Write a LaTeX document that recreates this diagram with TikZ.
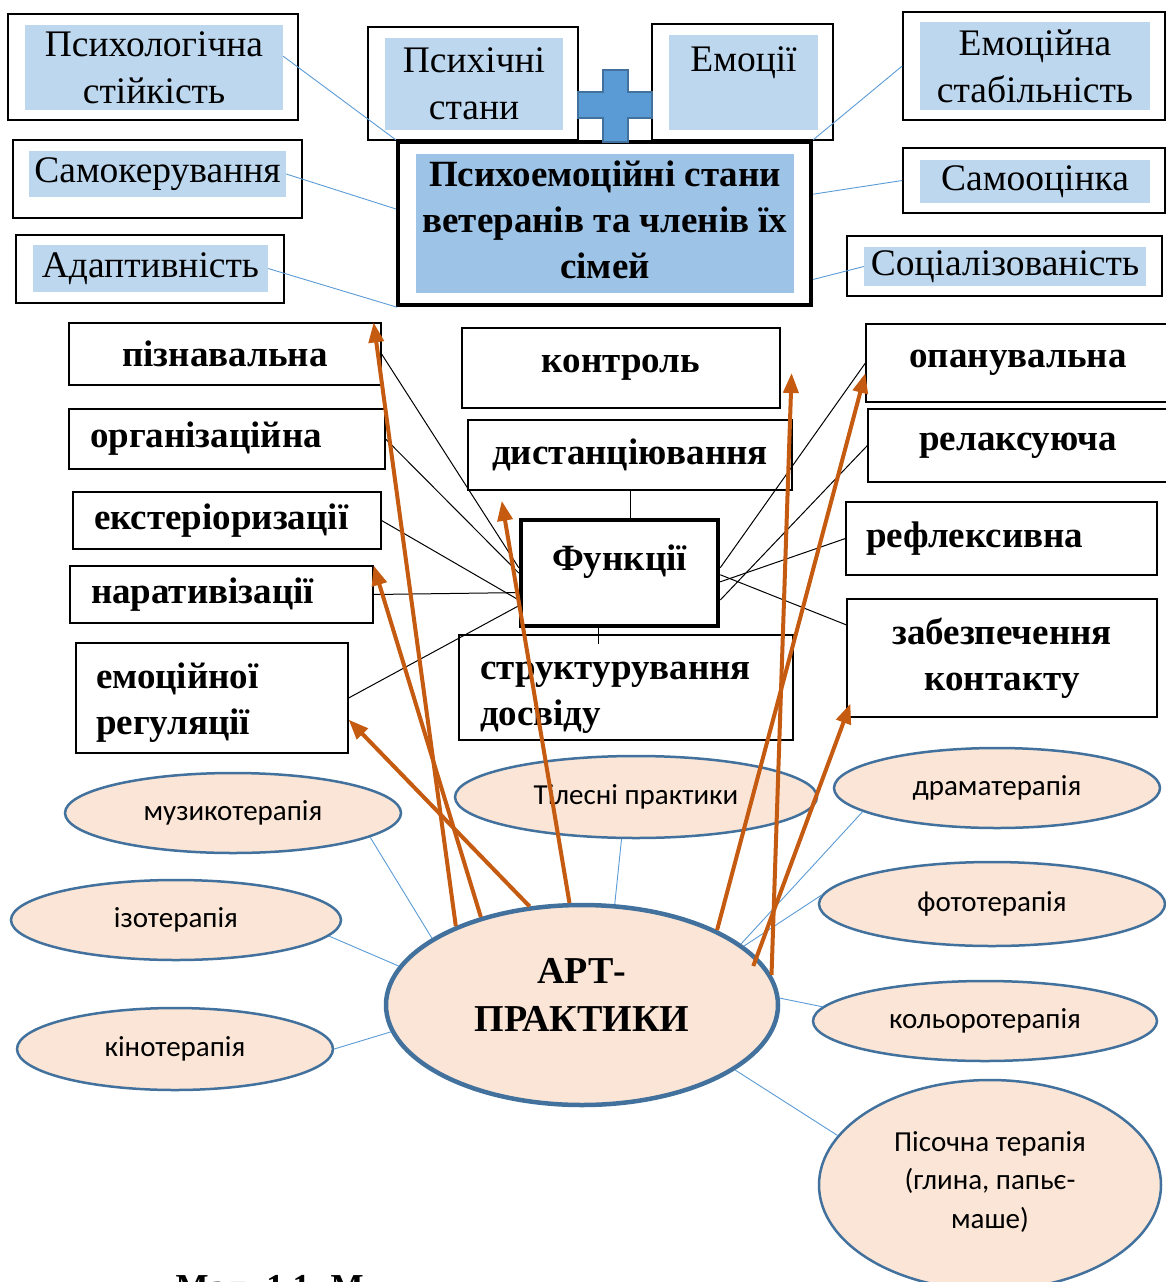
\documentclass[tikz,border=0pt]{standalone}
\usepackage{fontspec}
\setmainfont{Liberation Serif}
\newfontfamily\calibri{Carlito}
\usetikzlibrary{arrows.meta}
\usetikzlibrary{shapes.geometric}

\definecolor{lblue}{HTML}{BDD7EE}
\definecolor{mblue}{HTML}{9DC3E6}
\definecolor{pblue}{HTML}{5B9BD5}
\definecolor{eborder}{HTML}{41719C}
\definecolor{efill}{HTML}{FBE5D6}
\definecolor{orng}{HTML}{C55A11}

\newcommand{\lblfont}{\fontsize{37.5}{47}\selectfont}
\newcommand{\boldfont}{\fontsize{37}{46}\selectfont\bfseries}
\newcommand{\thfont}{\calibri\fontsize{29}{38.5}\selectfont}
\newcommand{\artfont}{\fontsize{38}{48}\selectfont\bfseries}

\begin{document}
\begin{tikzpicture}[
    x=1pt, y=-1pt,
    outerbox/.style={rectangle, draw, line width=1.6pt, fill=white, inner sep=0pt},
    fillbox/.style={rectangle, fill=lblue, inner sep=0pt, align=center, font=\lblfont},
    mainbox/.style={rectangle, draw, line width=4.5pt, fill=white, inner sep=0pt},
    funcbox/.style={rectangle, draw, line width=1.2pt, fill=white, inner sep=0pt, align=center, font=\boldfont},
    therapy/.style={ellipse, draw=eborder, line width=2.5pt, fill=efill, inner sep=0pt, align=center, font=\thfont},
    link/.style={draw=pblue, line width=0.9pt},
    fline/.style={draw, line width=1pt},
    artarrow/.style={draw=orng, line width=4pt, -{Triangle[length=20pt,width=15pt]}}
]
\useasboundingbox (0,0) rectangle (1165,1282);

% Top nodes
\node[outerbox, minimum width=290pt, minimum height=106pt] (psy) at (153,67) {};
\node[fillbox, minimum width=258pt, minimum height=85pt] (psyt) at (154,67.5) {Психологічна\\стійкість};
\node[outerbox, minimum width=210pt, minimum height=113pt] (states) at (473,83.5) {};
\node[fillbox, minimum width=178pt, minimum height=92pt] (statest) at (474,84) {Психічні\\стани};
\node[outerbox, minimum width=181pt, minimum height=116pt] (emo) at (742.5,82) {};
\node[fillbox, minimum width=149pt, text height=36pt, text depth=59pt] (emot) at (743.5,82.5) {Емоції};
\node[outerbox, minimum width=262pt, minimum height=108pt] (stab) at (1034,66) {};
\node[fillbox, minimum width=230pt, minimum height=88pt] (stabt) at (1035,66) {Емоційна\\стабільність};
\node[outerbox, minimum width=289pt, minimum height=78pt] (selfm) at (157.5,179) {};
\node[fillbox, minimum width=257pt, minimum height=46pt] (selfmt) at (157.5,174) {Самокерування};
\node[outerbox, minimum width=262pt, minimum height=65pt] (selfe) at (1034,180.5) {};
\node[fillbox, minimum width=230pt, minimum height=43pt] (selfet) at (1035,181.5) {Самооцінка};
\node[outerbox, minimum width=268pt, minimum height=68pt] (adapt) at (150,269) {};
\node[fillbox, minimum width=235pt, minimum height=47pt] (adaptt) at (150.5,268.5) {Адаптивність};
\node[outerbox, minimum width=315pt, minimum height=60pt] (social) at (1004.5,266) {};
\node[fillbox, minimum width=282pt, minimum height=39pt] (socialt) at (1005,266.5) {Соціалізованість};
\node[mainbox, minimum width=413pt, minimum height=163pt] (main) at (604.5,223.5) {};
\node[fillbox, fill=mblue, font=\boldfont, minimum width=378pt, minimum height=139pt] (maint) at (605,223.5) {\strut Психоемоційні стани\\\strut ветеранів та членів їх\\\strut сімей};

% Plus sign
\draw[fill=pblue, draw=eborder, line width=1.2pt] (603,70) -- (628,70) -- (628,92) -- (652,92) -- (652,118) -- (628,118) -- (628,142) -- (603,142) -- (603,118) -- (578,118) -- (578,92) -- (603,92) -- cycle;

% Function nodes
\node[funcbox, minimum width=312pt, minimum height=62pt] (pizn) at (225,354) {пізнавальна};
\node[funcbox, minimum height=60pt, inner xsep=21pt, text width=274pt, align=left] (org) at (227,439) {організаційна};
\node[funcbox, minimum height=57pt, inner xsep=21pt, text width=266pt, align=left] (ext) at (227,520.5) {екстеріоризації};
\node[funcbox, minimum height=57pt, inner xsep=21pt, text width=261pt, align=left] (narr) at (221.5,594.5) {наративізації};
\node[funcbox, minimum height=110pt, inner xsep=20pt, text width=232pt, align=left] (emreg) at (212,698) {\mbox{}\\[-6pt]\strut емоційної\\\strut регуляції};
\node[funcbox, minimum width=318pt, minimum height=80pt] (control) at (621,368) {контроль};
\node[funcbox, minimum width=324pt, minimum height=70pt] (dist) at (630,455) {дистанціювання};
\node[funcbox, line width=4.5pt, minimum width=197pt, text height=50pt, text depth=56pt] (func) at (619.5,573) {Функції};
\node[funcbox, minimum height=105pt, inner xsep=21pt, text width=292pt, align=left] (struct) at (626,687.5) {\mbox{}\\[-2pt]\strut структурування\\\strut досвіду};
\node[funcbox, minimum width=304pt, minimum height=78pt] (opan) at (1018,363) {опанувальна};
\node[funcbox, minimum width=300pt, minimum height=73pt] (relax) at (1018,445.5) {релаксуюча};
\node[funcbox, minimum height=73pt, inner xsep=20pt, text width=271pt, align=left] (refl) at (1001.5,538.5) {рефлексивна};
\node[funcbox, minimum width=310pt, minimum height=118pt] (contact) at (1002,658) {\strut забезпечення\\\strut контакту};

% Art practice nodes
\node[therapy, minimum width=336pt, minimum height=80pt] (muz) at (233,813) {музикотерапія};
\node[therapy, minimum width=330pt, minimum height=80pt] (izo) at (176,920) {ізотерапія};
\node[therapy, minimum width=316pt, minimum height=82pt] (kino) at (175,1049) {кінотерапія};
\node[therapy, minimum width=362pt, minimum height=82pt] (til) at (636,797) {Тілесні практики};
\node[therapy, minimum width=326pt, minimum height=80pt] (drama) at (997,788) {драматерапія};
\node[therapy, minimum width=346pt, minimum height=84pt] (foto) at (992,904) {фототерапія};
\node[therapy, minimum width=344pt, minimum height=80pt] (kolor) at (985,1021) {кольоротерапія};
\node[therapy, minimum width=342pt, minimum height=210pt] (sand) at (990,1185) {Пісочна терапія\\(глина, папьє-\\маше)\\[-28pt]\mbox{}};
\node[therapy, line width=4.5pt, font=\artfont, minimum width=392pt, minimum height=200pt] (art) at (582,1005) {АРТ-\\ПРАКТИКИ\\[-28pt]\mbox{}};

\node[anchor=base west, font=\fontsize{35}{42}\selectfont\bfseries] (caption) at (172,1298) {Мал. 1.1. М};

% Edges
\draw[link] (psyt.5) -- (main.north west);
\draw[link] (selfmt.east) -- (main.176);
\draw[link] (adaptt.east) -- (main.202);
\draw[link] (stab.west) -- (main.north east);
\draw[link] (selfe.west) -- (main.8);
\draw[link] (socialt.west) -- (main.-15);

\draw[fline] (pizn.east) -- (func.177);
\draw[fline] (org.east) -- (func.180);
\draw[fline] (ext.east) -- (func.195);
\draw[fline] (narr.east) -- (func.191);
\draw[fline] (emreg.east) -- (func.198);
\draw[fline] (dist.south) -- (dist.south |- func.north);
\draw[fline] ([xshift=-21pt,yshift=4pt]func.south) -- ([xshift=-21pt,yshift=-10pt]func.south |- struct.north);
\draw[fline] (func.3) -- (opan.west);
\draw[fline] (func.-15) -- (relax.west);
\draw[fline] (func.-5) -- (refl.west);
\draw[fline] (func.-1) -- (contact.168);

\draw[link] (muz.-10) -- (art.156);
\draw[link] (izo.-6) -- (art.168);
\draw[link] (kino.east) -- (art.188);
\draw[link] (til.251) -- (art.72);
\draw[link] (drama.190) -- (art.21);
\draw[link] (foto.177) -- (art.20);
\draw[link] (kolor.175) -- (art.2);
\draw[link] (sand.162) -- (art.-23);

\draw[artarrow] (art.148) -- ([xshift=-8pt]pizn.north east);
\draw[artarrow] (art.139) -- (narr.north east);
\draw[artarrow] (art.118) -- (emreg.-9);
\draw[artarrow] (art.97) -- ([xshift=-17pt,yshift=17pt]func.north west);
\draw[artarrow] (art.29) -- ([yshift=-10pt]opan.west);
\draw[artarrow] (art.9) -- ([xshift=11pt,yshift=-5pt]control.east);
\draw[artarrow] ([xshift=-12pt]art.12) -- ([xshift=4pt,yshift=14pt]contact.south west);

\end{tikzpicture}
\end{document}
